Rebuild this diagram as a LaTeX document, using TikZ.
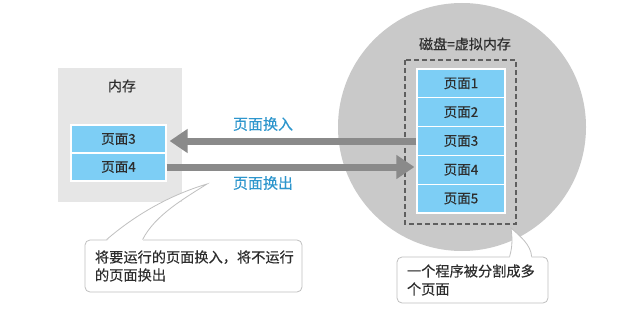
\documentclass[tikz,border=0pt]{standalone}
\usepackage{fontspec}
\setmainfont{Noto Sans CJK SC}[FakeBold=0.3, AutoFakeBold=0]
\usetikzlibrary{arrows.meta,positioning}
\definecolor{pageblue}{RGB}{125,206,245}
\definecolor{labelblue}{RGB}{45,150,205}
\definecolor{diskgray}{RGB}{201,201,201}
\definecolor{memgray}{RGB}{230,230,230}
\definecolor{arrowgray}{RGB}{138,138,138}
\definecolor{textgray}{RGB}{45,45,45}
\definecolor{notegray}{RGB}{192,192,192}
\definecolor{dashgray}{RGB}{95,95,95}

\tikzset{
  pagebox/.style={fill=pageblue, draw=white, line width=1.2pt, inner sep=0pt,
    minimum height=28.8pt, text=textgray, font=\fontsize{13.5}{15}\selectfont},
  bigarrow/.style={draw=arrowgray, line width=7pt,
    -{Triangle[length=18pt,width=23pt]}},
  notebox/.style={draw=notegray, fill=white, rounded corners=5pt, line width=0.8pt,
    align=left, text=textgray, inner xsep=10pt, inner ysep=0pt,
    font=\fontsize{14.2}{18}\selectfont},
  titletext/.style={text=textgray, font=\fontsize{14}{15}\selectfont},
  bluetext/.style={text=labelblue, font=\fontsize{15}{16}\selectfont}
}

\begin{document}
\begin{tikzpicture}[x=1pt, y=-1pt]

% Background
\useasboundingbox[fill=white] (0,0) rectangle (626,321);

% Disk
\fill[diskgray] (462,127) circle (124pt);
\node[titletext] (disktitle) at (465,44) {磁盘=虚拟内存};
\draw[dashgray, line width=1.2pt, dash pattern=on 5pt off 3pt] (405,60) rectangle (516,224);
\foreach \i/\y in {1/83.4,2/112.2,3/141,4/169.8,5/198.6} {
    \node[pagebox, minimum width=88pt] (d\i) at (461,\y) {页面\i};
}

% Memory
\fill[memgray] (58,68) rectangle (182,202);
\node[titletext] (memtitle) at (122,86) {内存};
\foreach \i/\y in {3/139,4/167} {
    \node[pagebox, minimum width=95pt, minimum height=28pt] (m\i) at (118.5,\y) {页面\i};
}

% Arrows
\draw[bigarrow, shorten >=3pt] (d3.west) -- (d3.west -| m3.east);
\draw[bigarrow, shorten >=2pt] (m4.east) -- (m4.east -| d4.west);
\node[bluetext] (lblin) at (263,124) {页面换入};
\node[bluetext] (lblout) at (263,183) {页面换出};

% Callouts
\node[notebox, minimum width=217pt, minimum height=52pt, text width=197pt]
    (note1) at (193.5,266) {将要运行的页面换入，将不运行\\的页面换出};
\coordinate (tip1) at (207,184);
\fill[white] ([xshift=22pt,yshift=-1.5pt]note1.north west) .. controls (135,215) and (170,195) .. (tip1)
    .. controls (185,198) and (155,215) .. ([xshift=58pt,yshift=-1.5pt]note1.north west) -- cycle;
\draw[notegray, line width=0.8pt] ([xshift=22pt]note1.north west) .. controls (135,215) and (170,195) .. (tip1)
    .. controls (185,198) and (155,215) .. ([xshift=58pt]note1.north west);

\node[notebox, minimum width=151pt, minimum height=46pt, text width=131pt]
    (note2) at (472.5,280) {一个程序被分割成多\\个页面};
\coordinate (tip2) at (511,228);
\fill[white] ([xshift=113pt,yshift=-1.5pt]note2.north west) .. controls (513,245) and (512,236) .. (tip2)
    .. controls (520,236) and (531,245) .. ([xshift=135pt,yshift=-1.5pt]note2.north west) -- cycle;
\draw[notegray, line width=0.8pt] ([xshift=113pt]note2.north west) .. controls (513,245) and (512,236) .. (tip2)
    .. controls (520,236) and (531,245) .. ([xshift=135pt]note2.north west);

\end{tikzpicture}
\end{document}
